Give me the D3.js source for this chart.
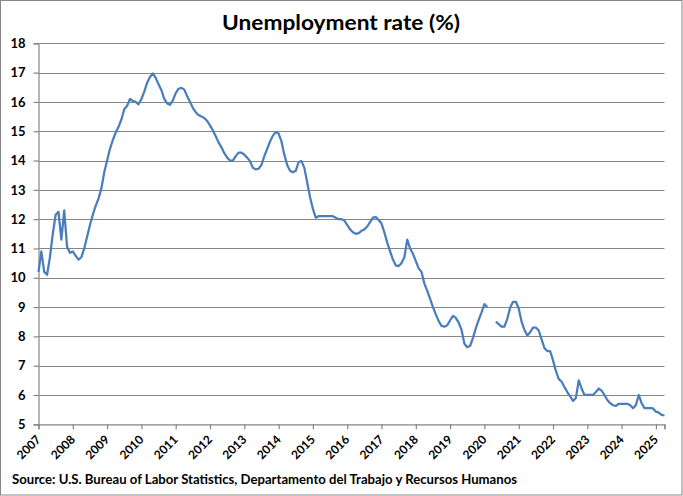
<!DOCTYPE html>
<html>
<head>
<meta charset="utf-8">
<script src="https://cdn.jsdelivr.net/npm/d3@7"></script>
<style>
  body { margin: 0; background: #fff; }
  text { font-family: Lato, "Liberation Sans", sans-serif; font-weight: bold; fill: #000; }
</style>
</head>
<body>
<div id="main_chart"></div>
<script>
// monthly unemployment rate, Jan 2007 .. Apr 2025 (null = no data)
const rate = [
  10.2, 10.9, 10.2, 10.1, 10.7, 11.5, 12.15, 12.25, 11.3, 12.3, 11.05, 10.85,   // 2007
  10.9, 10.75, 10.62, 10.7, 11.0, 11.4, 11.8, 12.15, 12.45, 12.7, 13.05, 13.6,   // 2008
  14.0, 14.4, 14.7, 14.95, 15.15, 15.4, 15.75, 15.87, 16.1, 16.03, 16.0, 15.92,  // 2009
  16.1, 16.35, 16.65, 16.85, 16.97, 16.82, 16.6, 16.4, 16.1, 15.95, 15.9, 16.05, // 2010
  16.3, 16.45, 16.48, 16.42, 16.2, 16.0, 15.8, 15.65, 15.55, 15.5, 15.45, 15.35, // 2011
  15.2, 15.03, 14.83, 14.62, 14.45, 14.25, 14.1, 14.0, 14.0, 14.15, 14.27, 14.27,// 2012
  14.2, 14.1, 13.98, 13.75, 13.7, 13.72, 13.85, 14.15, 14.4, 14.65, 14.85, 14.97,// 2013
  14.92, 14.65, 14.2, 13.85, 13.65, 13.6, 13.65, 13.95, 13.98, 13.75, 13.25, 12.75, // 2014
  12.35, 12.05, 12.1, 12.1, 12.1, 12.1, 12.1, 12.1, 12.05, 12.0, 12.0, 11.95,    // 2015
  11.8, 11.65, 11.55, 11.5, 11.52, 11.6, 11.65, 11.75, 11.9, 12.05, 12.07, 11.97,// 2016
  11.85, 11.55, 11.2, 10.9, 10.62, 10.42, 10.4, 10.5, 10.7, 11.3, 11.0, 10.82,   // 2017
  10.57, 10.32, 10.2, 9.8, 9.55, 9.28, 9.0, 8.75, 8.52, 8.36, 8.33, 8.38,        // 2018
  8.55, 8.7, 8.63, 8.47, 8.22, 7.75, 7.63, 7.68, 7.95, 8.28, 8.56, 8.82,         // 2019
  9.1, 9.0, null, null, 8.5, 8.42, 8.33, 8.33, 8.6, 8.98, 9.18, 9.18,            // 2020
  8.95, 8.5, 8.22, 8.03, 8.14, 8.3, 8.3, 8.2, 7.9, 7.6, 7.5, 7.5,                // 2021
  7.18, 6.82, 6.55, 6.45, 6.27, 6.1, 5.95, 5.8, 5.9, 6.5, 6.22, 6.0,             // 2022
  6.0, 6.0, 6.0, 6.1, 6.22, 6.15, 6.0, 5.83, 5.72, 5.65, 5.63, 5.7,              // 2023
  5.7, 5.7, 5.7, 5.65, 5.55, 5.66, 6.0, 5.72, 5.55, 5.55, 5.55, 5.54,            // 2024
  5.43, 5.4, 5.32, 5.3                                                           // 2025
];

const yearLabels = ["2007", "2008", "2009", "2010", "2011", "2012", "2013", "2014", "2015",
  "2016", "2017", "2018", "2019", "2020", "2021", "2022", "2023", "2024", "2025"];

const yTicks = [5, 6, 7, 8, 9, 10, 11, 12, 13, 14, 15, 16, 17, 18];

const titleText = "Unemployment rate (%)";
const sourceText = "Source: U.S. Bureau of Labor Statistics, Departamento del Trabajo y Recursos Humanos";

const width = 683;
const height = 496;
const plotLeft = 38.5;
const plotRight = 664.5;
const plotTop = 43.3;
const plotBottom = 424.3;
const gridColor = "#868686";

const xScale = d3.scaleLinear()
  .domain([0, rate.length - 1])
  .range([plotLeft, plotRight]);

const yScale = d3.scaleLinear()
  .domain([5, 18])
  .range([plotBottom, plotTop]);

const svg = d3.create("svg").attr("width", width).attr("height", height);

// chart border
svg.append("rect")
  .attr("x", 0.5).attr("y", 0.5)
  .attr("width", width - 1.5).attr("height", height - 1.5)
  .attr("fill", "#fff")
  .attr("stroke", gridColor);

// horizontal gridlines
svg.append("g")
  .selectAll("line")
  .data(yTicks.slice(1))
  .join("line")
  .attr("x1", plotLeft).attr("x2", plotRight)
  .attr("y1", (d) => Math.round(yScale(d)) + 0.5)
  .attr("y2", (d) => Math.round(yScale(d)) + 0.5)
  .attr("stroke", gridColor)
  .attr("stroke-width", 1.2);

// y axis
const yAxis = svg.append("g")
  .attr("transform", `translate(${plotLeft},0)`)
  .call(d3.axisLeft(yScale).tickValues(yTicks).tickSize(5).tickPadding(8).tickFormat(d3.format("d")));
yAxis.select(".domain").attr("stroke", gridColor).attr("stroke-width", 1.2);
yAxis.selectAll(".tick line").attr("stroke", gridColor).attr("stroke-width", 1.2);
yAxis.selectAll(".tick text")
  .style("font-size", "13px")
  .style("font-family", "Lato, sans-serif")
  .style("font-weight", "bold")
  .attr("fill", "#000");

// x axis: one tick per year plus one at the end of the axis
const yearIdx = yearLabels.map((y, i) => i * 12);
const xAxis = svg.append("g")
  .attr("transform", `translate(0,${plotBottom})`)
  .call(d3.axisBottom(xScale)
    .tickValues(yearIdx.concat([rate.length - 1]))
    .tickSize(5)
    .tickFormat(""));
xAxis.select(".domain").attr("stroke", gridColor).attr("stroke-width", 1.2);
xAxis.selectAll(".tick line").attr("stroke", gridColor).attr("stroke-width", 1.2);

svg.append("g")
  .selectAll("text")
  .data(yearLabels)
  .join("text")
  .attr("transform", (d, i) => `translate(${xScale(yearIdx[i]) + 3},${plotBottom + 16}) rotate(-45)`)
  .attr("text-anchor", "end")
  .style("font-size", "12px")
  .text((d) => d);

// the series
const line = d3.line()
  .defined((d) => d != null)
  .x((d, i) => xScale(i))
  .y((d) => yScale(d));

svg.append("path")
  .attr("fill", "none")
  .attr("stroke", "#4A7EBB")
  .attr("stroke-width", 2.25)
  .attr("stroke-linejoin", "round")
  .attr("d", line(rate));

// title
svg.append("text")
  .attr("x", 341).attr("y", 29.5)
  .attr("text-anchor", "middle")
  .attr("textLength", 238)
  .attr("lengthAdjust", "spacingAndGlyphs")
  .style("font-size", "21px")
  .text(titleText);

// source
svg.append("text")
  .attr("x", 12).attr("y", 484)
  .attr("textLength", 505)
  .attr("lengthAdjust", "spacingAndGlyphs")
  .style("font-size", "13px")
  .text(sourceText);

document.getElementById("main_chart").append(svg.node());
</script>
</body>
</html>
